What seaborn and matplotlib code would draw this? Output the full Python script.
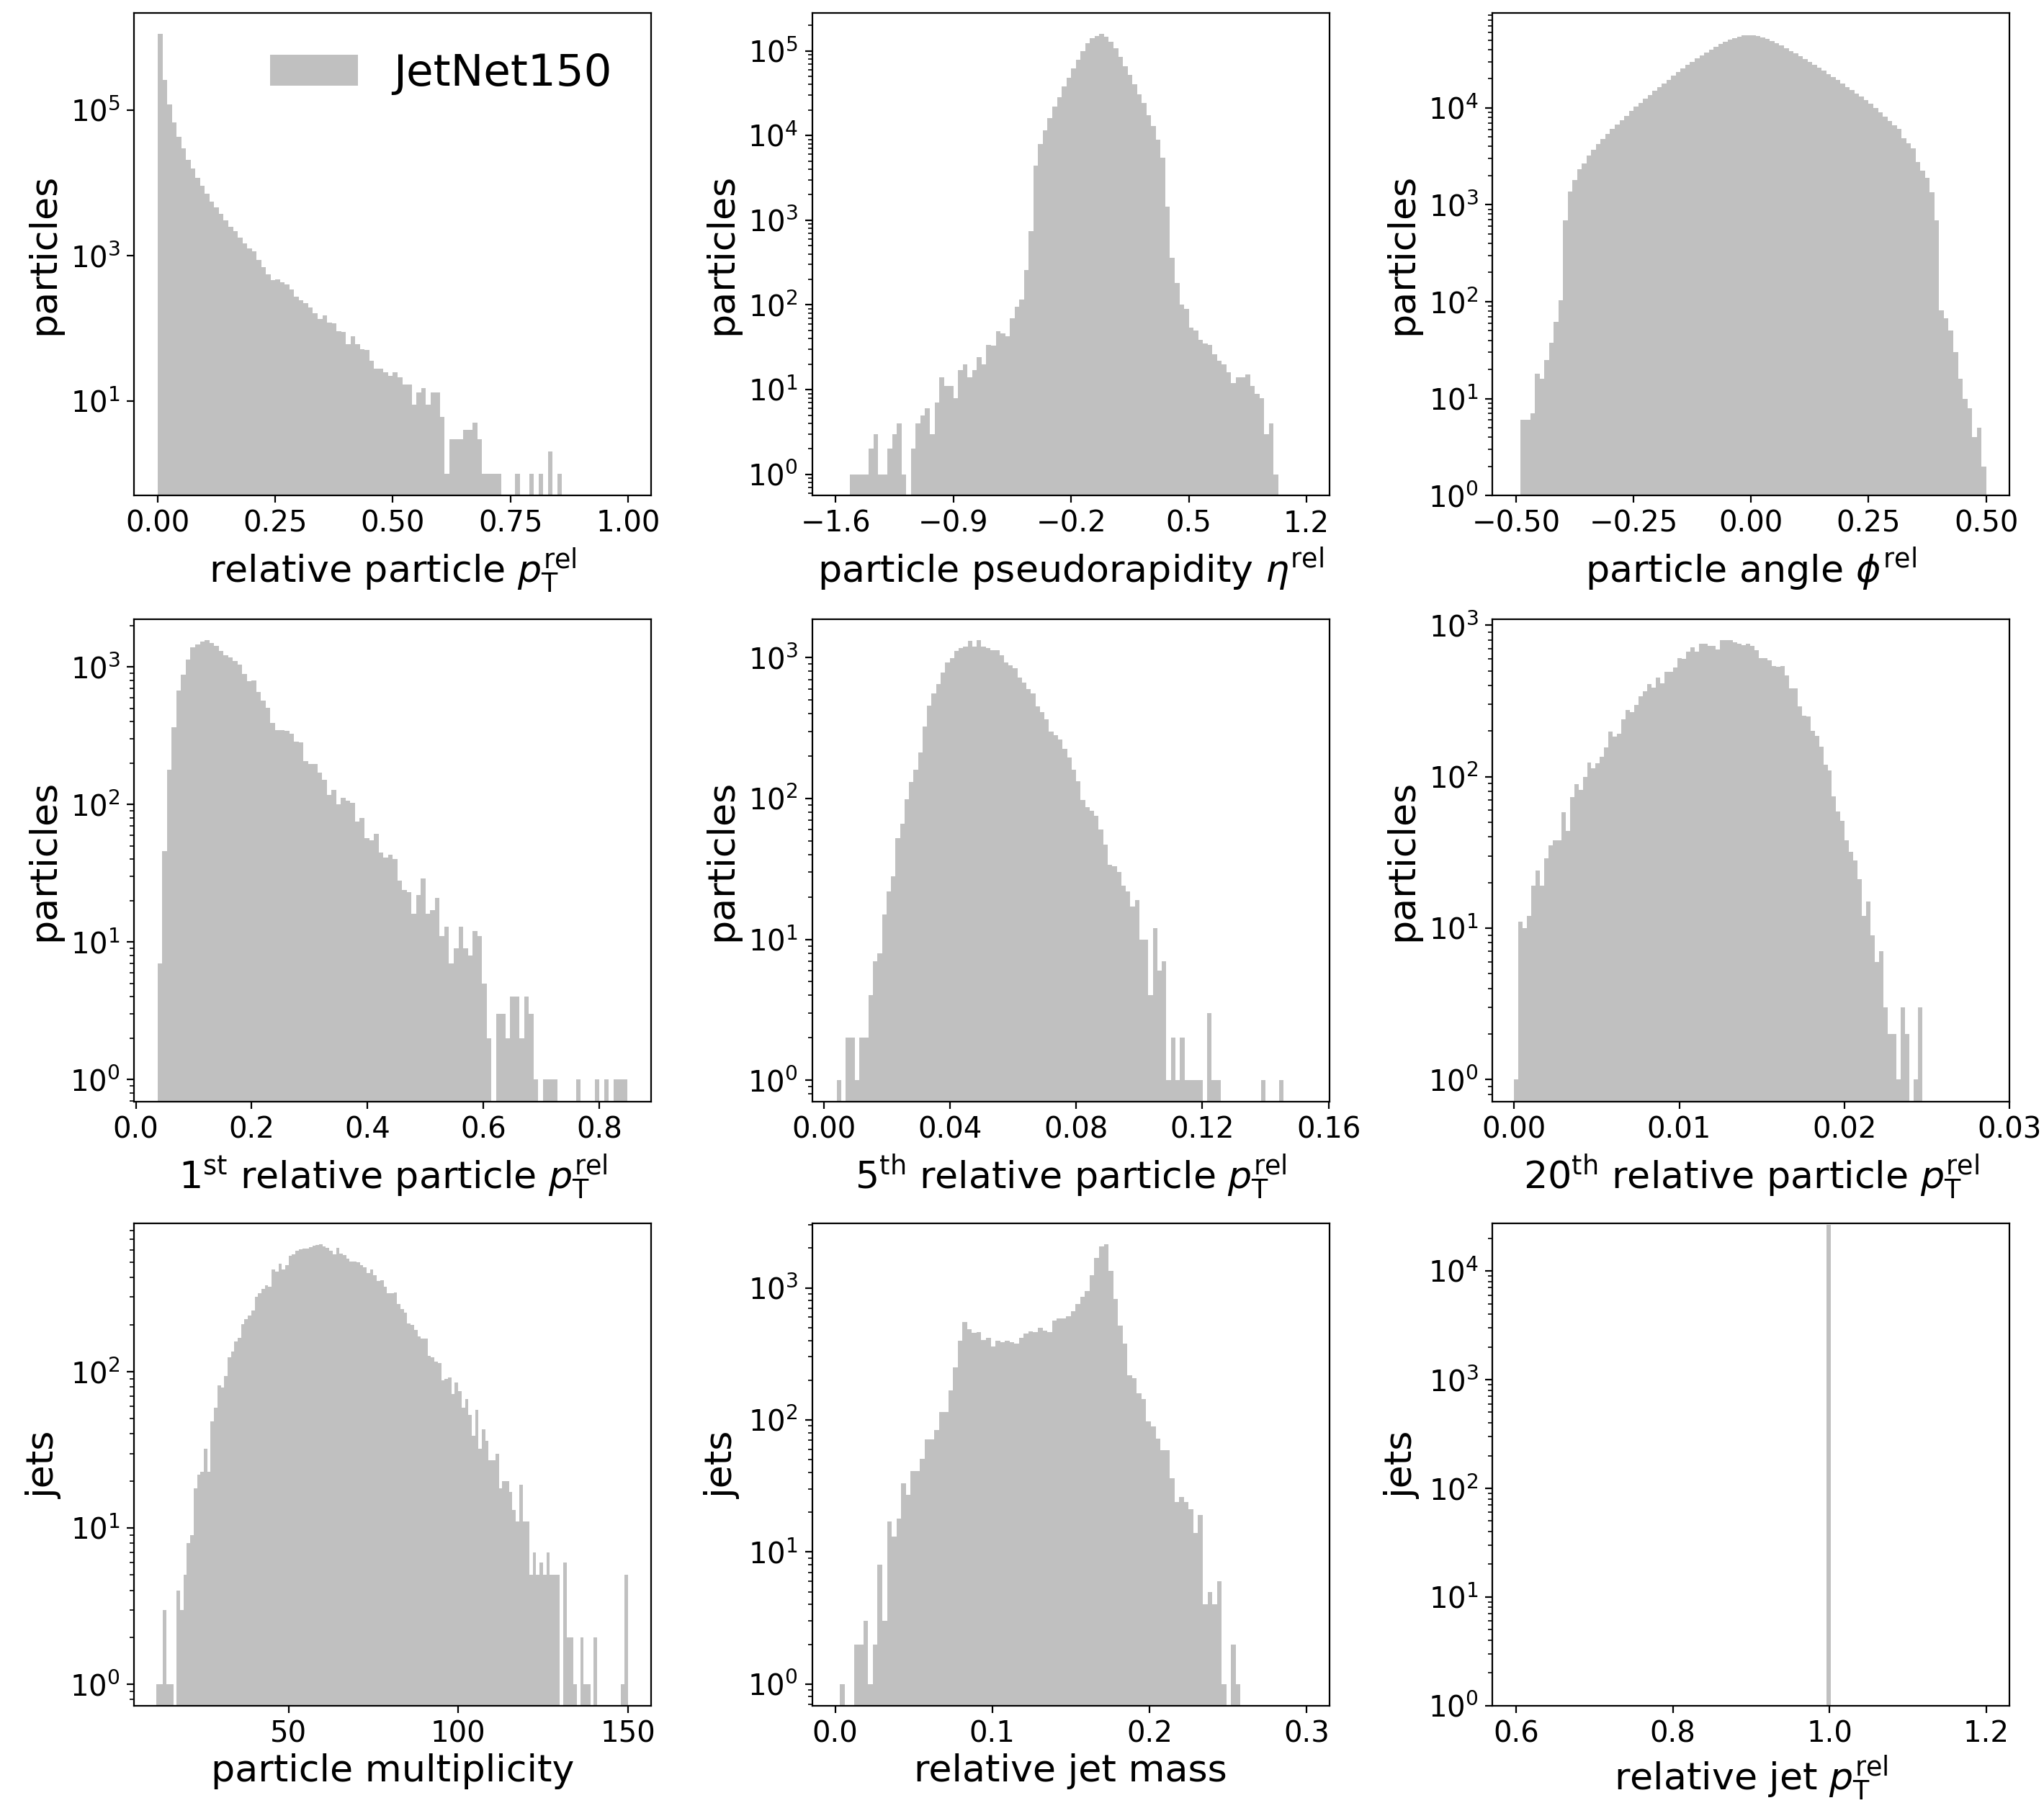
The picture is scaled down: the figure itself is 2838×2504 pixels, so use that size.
import numpy as np
import pandas as pd
import matplotlib
matplotlib.use("Agg")
import matplotlib.pyplot as plt
from matplotlib.ticker import NullLocator
import seaborn as sns

BAR_COLOR = "silver"
DATASET = "JetNet150"

# ---- particle-level features: (low edge, high edge, number of bins) and bin counts ----
pt_rel_bins = (0.0, 1.0, 100)
pt_rel_counts = [
    1120000, 260000, 120000, 68000, 43000, 30000, 21000, 15700, 11700, 9200,
    7100, 5600, 4600, 3800, 3050, 2500, 2200, 1780, 1460, 1270,
    1150, 880, 690, 550, 457, 468, 427, 398, 343, 272,
    243, 221, 193, 160, 133, 150, 120, 118, 92, 90,
    61, 77, 60, 52, 50, 36, 28, 28, 25, 22,
    25, 21, 17, 17, 9, 13, 15, 9, 13, 13,
    6, 1, 3, 3, 3, 4, 4, 5, 3, 1,
    1, 1, 1, 0, 0, 0, 1, 0, 0, 1,
    0, 1, 0, 2, 0, 1, 0, 0, 0, 0,
    0, 0, 0, 0, 0, 0, 0, 0, 0, 0,
]

eta_rel_bins = (-1.6, 1.2, 100)
eta_rel_counts = [
    0, 0, 0, 1, 1, 1, 1, 2, 3, 1,
    1, 2, 3, 4, 1, 0, 2, 4, 5, 6,
    3, 7, 14, 11, 11, 8, 17, 20, 14, 17,
    24, 20, 34, 33, 49, 46, 43, 70, 95, 116,
    260, 747, 4370, 7900, 11500, 16200, 21800, 28500, 37600, 48200,
    61700, 78900, 99100, 123000, 141000, 150000, 157000, 147000, 127000, 108000,
    84500, 66100, 52100, 40300, 30900, 24100, 17400, 12900, 9000, 5430,
    1450, 360, 182, 100, 90, 54, 50, 39, 35, 34,
    26, 22, 20, 16, 12, 14, 14, 15, 11, 9,
    8, 3, 4, 1, 0, 0, 0, 0, 0, 0,
]

phi_rel_bins = (-0.5, 0.5, 100)
phi_rel_counts = [
    0, 6, 6, 7, 18, 16, 25, 38, 62, 104,
    687, 1380, 1790, 2340, 2690, 3200, 3700, 4250, 4800, 5400,
    6030, 6760, 7510, 8330, 9250, 10250, 11300, 12500, 13650, 15000,
    16360, 17800, 19500, 21400, 23300, 25400, 27700, 30000, 32400, 35000,
    37500, 40200, 43000, 45700, 48600, 50700, 52500, 54400, 55800, 56300,
    56300, 55300, 53800, 52000, 49400, 46800, 44500, 41600, 38900, 36500,
    34100, 31800, 29700, 27700, 25900, 24200, 22500, 21000, 19500, 18000,
    16500, 15300, 14100, 13100, 12100, 11000, 10000, 9000, 8130, 7330,
    6670, 6060, 4900, 4290, 3800, 2760, 2260, 1910, 1350, 687,
    81, 67, 50, 30, 16, 10, 8, 4, 5, 2,
]

lead1_bins = (0.0375, 0.849, 100)
lead1_counts = [
    7, 46, 179, 366, 674, 880, 1130, 1390, 1460, 1530,
    1570, 1500, 1420, 1310, 1220, 1170, 1110, 1040, 897, 794,
    804, 662, 568, 503, 394, 349, 350, 343, 329, 286,
    282, 208, 198, 198, 170, 151, 118, 128, 101, 112,
    107, 103, 75, 80, 57, 55, 61, 45, 41, 43,
    40, 28, 24, 23, 16, 22, 29, 16, 17, 21,
    11, 13, 7, 9, 13, 9, 8, 12, 11, 5,
    2, 0, 3, 3, 2, 4, 4, 2, 4, 3,
    1, 0, 1, 1, 1, 0, 0, 0, 0, 1,
    0, 0, 0, 1, 0, 1, 0, 1, 1, 1,
]

lead5_bins = (0.0027, 0.1458, 100)
lead5_counts = [
    0, 1, 0, 2, 2, 1, 2, 2, 4, 7,
    8, 15, 22, 28, 52, 66, 99, 131, 160, 212,
    325, 456, 555, 652, 788, 920, 988, 1110, 1170, 1200,
    1310, 1200, 1330, 1200, 1170, 1130, 1130, 1040, 920, 877,
    840, 725, 663, 600, 555, 451, 412, 366, 298, 280,
    261, 224, 196, 160, 133, 98, 87, 82, 75, 60,
    47, 34, 33, 30, 24, 22, 17, 19, 10, 10,
    4, 12, 6, 7, 1, 2, 1, 2, 1, 1,
    1, 1, 0, 3, 1, 1, 0, 0, 0, 0,
    0, 0, 0, 0, 0, 1, 0, 0, 0, 1,
]

lead20_bins = (0.0, 0.026, 100)
lead20_counts = [
    1, 11, 10, 12, 19, 24, 19, 29, 35, 38,
    38, 58, 44, 73, 89, 82, 100, 124, 114, 122,
    135, 156, 198, 183, 193, 240, 276, 268, 298, 340,
    368, 410, 388, 449, 415, 490, 490, 524, 608, 598,
    668, 713, 668, 758, 754, 733, 733, 693, 801, 793,
    793, 771, 754, 738, 758, 733, 687, 608, 608, 588,
    536, 530, 536, 466, 384, 384, 291, 253, 250, 200,
    185, 157, 120, 110, 74, 59, 51, 38, 32, 28,
    21, 12, 15, 9, 6, 7, 3, 2, 2, 1,
    3, 2, 0, 1, 3, 0, 0, 0, 0, 0,
]

# ---- jet-level features ----
mult_bins = (11, 150, 139)
mult_counts = [
    1, 1, 3, 1, 1, 0, 4, 3, 5,                                   # 11-19
    8, 9, 18, 22, 23, 32, 23, 48, 59, 82,                        # 20-29
    79, 94, 123, 134, 156, 164, 201, 217, 229, 246,              # 30-39
    300, 319, 338, 358, 351, 449, 438, 493, 453, 482,            # 40-49
    550, 564, 597, 606, 611, 615, 628, 641, 648, 650,            # 50-59
    634, 617, 591, 564, 620, 569, 556, 530, 506, 506,            # 60-69
    499, 478, 466, 428, 449, 412, 380, 386, 349, 318,            # 70-79
    318, 322, 270, 252, 239, 203, 200, 185, 168, 162,            # 80-89
    162, 126, 123, 116, 113, 88, 90, 92, 72, 85,                 # 90-99
    75, 59, 67, 53, 39, 57, 32, 43, 36, 27,                      # 100-109
    27, 30, 18, 20, 20, 17, 13, 11, 19, 11,                      # 110-119
    11, 5, 7, 5, 6, 5, 7, 5, 5, 5,                               # 120-129
    0, 6, 2, 2, 1, 0, 2, 1, 1, 0,                                # 130-139
    2, 0, 0, 0, 0, 0, 0, 0, 1, 5,                                # 140-149
]

mass_bins = (0.0, 0.3, 100)
mass_counts = [
    0, 1, 0, 0, 2, 2, 3, 1, 2, 8,
    3, 17, 13, 18, 33, 27, 41, 41, 51, 71,
    71, 84, 115, 115, 167, 249, 398, 554, 486, 454,
    460, 403, 417, 360, 398, 390, 398, 390, 378, 417,
    451, 470, 460, 499, 476, 460, 563, 589, 589, 608,
    662, 751, 859, 942, 1244, 1676, 2070, 2150, 1346, 819,
    519, 378, 218, 208, 160, 144, 97, 89, 72, 59,
    59, 36, 24, 26, 24, 21, 14, 19, 4, 5,
    4, 6, 1, 0, 2, 1, 0, 0, 0, 0,
    0, 0, 0, 0, 0, 0, 0, 0, 0, 0,
]

jet_pt_bins = (0.6, 1.2, 100)
jet_pt_values = [1.0]
jet_pt_counts = [26400]

TICK_SIZE = 14.5
LABEL_SIZE = 18.8
LEGEND_SIZE = 22

fig = plt.figure(figsize=(14.19, 12.52), dpi=200)

col_left = [0.0657, 0.3973, 0.7302]
row_bottom = [0.7252, 0.3890, 0.0540]
ax_w, ax_h = 0.2530, 0.2676


def draw(ax, spec, counts, values=None, label=None):
    lo, hi, n = spec
    edges = np.linspace(lo, hi, n + 1)
    centers = 0.5 * (edges[:-1] + edges[1:])
    x = centers if values is None else np.asarray(values, dtype=float)
    df = pd.DataFrame({"value": x, "count": np.asarray(counts, dtype=float)})
    sns.histplot(data=df, x="value", weights="count", bins=n, binrange=(lo, hi),
                 stat="count", color=BAR_COLOR, alpha=1.0, linewidth=0,
                 ax=ax, label=label)
    ax.set_yscale("log")


panels = [
    # spec, counts, values, xlim, log10 ylim, xticks, xlabel, ylabel
    (pt_rel_bins, pt_rel_counts, None, (-0.05, 1.05), (-0.30, 6.34),
     [0.0, 0.25, 0.5, 0.75, 1.0], r"relative particle $p_\mathrm{T}^\mathrm{rel}$", "particles"),
    (eta_rel_bins, eta_rel_counts, None, (-1.74, 1.335), (-0.249, 5.446),
     [-1.6, -0.9, -0.2, 0.5, 1.2], r"particle pseudorapidity $\eta^\mathrm{rel}$", "particles"),
    (phi_rel_bins, phi_rel_counts, None, (-0.55, 0.55), (0.0, 4.98),
     [-0.5, -0.25, 0.0, 0.25, 0.5], r"particle angle $\phi^\mathrm{rel}$", "particles"),
    (lead1_bins, lead1_counts, None, (-0.0027, 0.89), (-0.161, 3.349),
     [0.0, 0.2, 0.4, 0.6, 0.8], r"1$^\mathrm{st}$ relative particle $p_\mathrm{T}^\mathrm{rel}$", "particles"),
    (lead5_bins, lead5_counts, None, (-0.0037, 0.1602), (-0.152, 3.273),
     [0.0, 0.04, 0.08, 0.12, 0.16], r"5$^\mathrm{th}$ relative particle $p_\mathrm{T}^\mathrm{rel}$", "particles"),
    (lead20_bins, lead20_counts, None, (-0.0013, 0.030), (-0.146, 3.04),
     [0.0, 0.01, 0.02, 0.03], r"20$^\mathrm{th}$ relative particle $p_\mathrm{T}^\mathrm{rel}$", "particles"),
    (mult_bins, mult_counts, None, (4.5, 157.0), (-0.136, 2.95),
     [50, 100, 150], "particle multiplicity", "jets"),
    (mass_bins, mass_counts, None, (-0.0147, 0.3145), (-0.164, 3.49),
     [0.0, 0.1, 0.2, 0.3], "relative jet mass", "jets"),
    (jet_pt_bins, jet_pt_counts, jet_pt_values, (0.57, 1.23), (0.0, 4.44),
     [0.6, 0.8, 1.0, 1.2], r"relative jet $p_\mathrm{T}^\mathrm{rel}$", "jets"),
]

for i, (spec, counts, values, xlim, ylog, xticks, xlabel, ylabel) in enumerate(panels):
    r, c = divmod(i, 3)
    ax = fig.add_axes([col_left[c], row_bottom[r], ax_w, ax_h])
    draw(ax, spec, counts, values, label=DATASET if i == 0 else None)
    ax.set_xlim(*xlim)
    ax.set_ylim(10 ** ylog[0], 10 ** ylog[1])
    ax.set_xticks(xticks)
    if i == 0:
        # wide dynamic range: label every other decade, no minor ticks
        ax.set_yticks([1e1, 1e3, 1e5])
        ax.yaxis.set_minor_locator(NullLocator())
    ax.set_xlabel(xlabel, fontsize=LABEL_SIZE, labelpad=2.5 if r == 2 else 4.0)
    ax.set_ylabel(ylabel, fontsize=LABEL_SIZE)
    ax.tick_params(axis="both", which="both", labelsize=TICK_SIZE)
    if i == 0:
        ax.legend(loc="upper right", frameon=False, fontsize=LEGEND_SIZE)

fig.savefig("out.png", dpi=200)
